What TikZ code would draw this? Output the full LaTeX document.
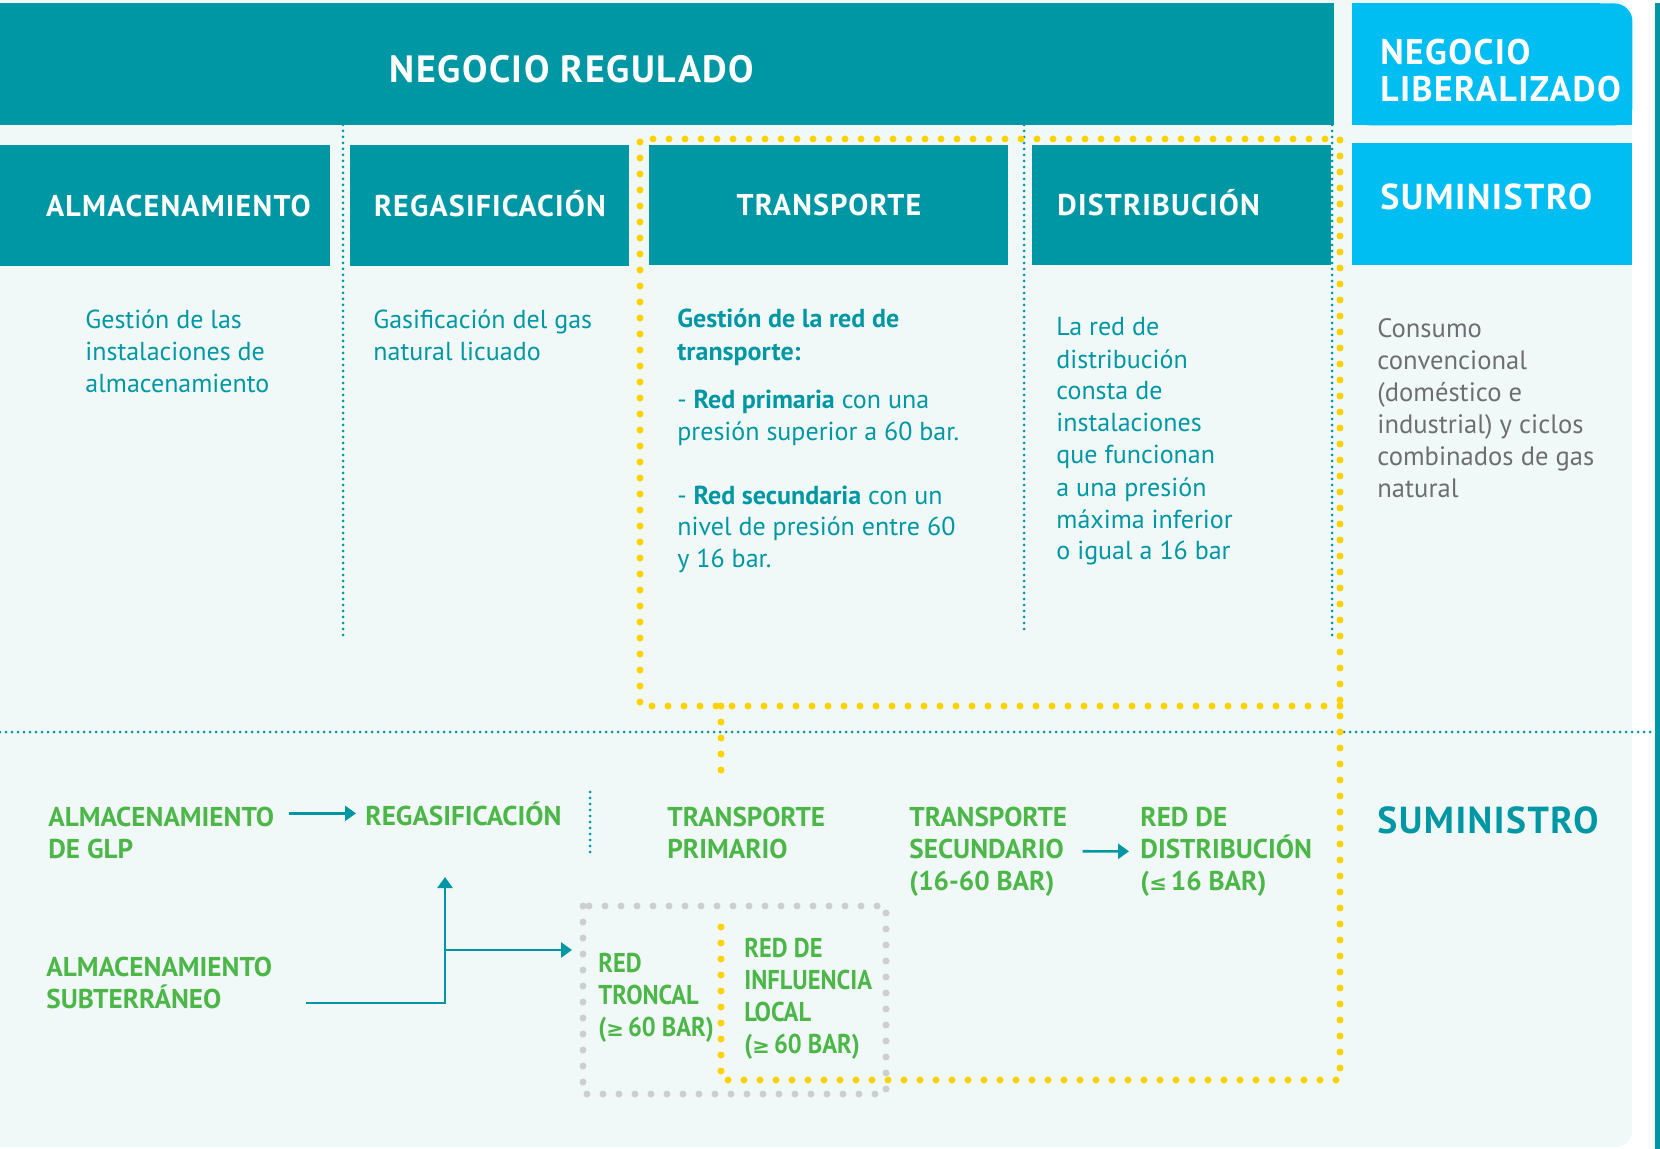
\documentclass[tikz,border=0pt]{standalone}
\usepackage{fontspec}
\setmainfont{PT Sans}
\newfontfamily\headsans[LetterSpace=4]{PT Sans}
\newfontfamily\narrowsans[FakeStretch=0.9]{PT Sans}
\newfontfamily\symsans{DejaVu Sans}
\usetikzlibrary{arrows.meta}
\definecolor{petrol}{RGB}{0,151,165}
\definecolor{sky}{RGB}{0,189,242}
\definecolor{mint}{RGB}{241,249,248}
\definecolor{leaf}{RGB}{76,183,72}
\definecolor{slate}{RGB}{109,110,113}
\definecolor{sun}{RGB}{255,210,0}
\definecolor{ash}{RGB}{205,206,208}
\newcommand{\mayoroig}{{\symsans\bfseries\fontsize{10.5}{16}\selectfont ≥}\kern2pt}
\newcommand{\menoroig}{{\symsans\bfseries\fontsize{10.5}{16}\selectfont ≤}\kern2pt}
\begin{document}
\begin{tikzpicture}[x=0.5pt,y=-0.5pt,
	every node/.style={inner sep=0,anchor=base west,align=left},
	hbox/.style 2 args={fill=petrol,text=white,anchor=north west,align=center,
		minimum width=0.5pt*#1,minimum height=0.5pt*#2,text height=10.5pt,text depth=0pt,
		font=\headsans\bfseries\fontsize{15}{18}\selectfont},
	body/.style={text=petrol,font=\fontsize{13}{16}\selectfont},
	step label/.style={text=leaf,font=\bfseries\fontsize{13.6}{16}\selectfont},
	narrow label/.style={step label,font=\narrowsans\bfseries\fontsize{13.6}{16}\selectfont},
	tdots/.style={petrol,line width=1.5pt,dash pattern=on 0pt off 3pt,line cap=round},
	ydots/.style={sun,line width=3.5pt,dash pattern=on 0pt off 8pt,line cap=round},
	gdots/.style={ash,line width=3.5pt,dash pattern=on 0pt off 8pt,line cap=round},
	link/.style={petrol,line width=1.3pt,-{Triangle[length=5.5pt,width=7.5pt]}}]
\useasboundingbox (0,0) rectangle (1660,1149);
\fill[mint,rounded corners=8pt] (0,0) rectangle (1632,1147);
\fill[mint] (0,0) rectangle (60,1147);
\fill[petrol] (1655,3) rectangle (1660,1149);

\node[hbox={1334}{122}] (reg) at (0,3) {};
\node[anchor=center,text=white,font=\headsans\bfseries\fontsize{19}{20}\selectfont] (regt) at (572,69) {NEGOCIO REGULADO};
\node[hbox={280}{122},fill=sky,rounded corners=9pt] (lib) at (1352,3) {};
\fill[sky] (1352,3) rectangle (1600,125);
\fill[sky] (1352,40) rectangle (1632,125);
\node[text=white,font=\headsans\bfseries\fontsize{17.8}{18.5}\selectfont] (libt) at (1380,102) {NEGOCIO\\LIBERALIZADO};

\node[hbox={330}{121}] (alm) at (0,145) {\hspace*{13pt}ALMACENAMIENTO};
\node[hbox={279}{121}] (rgs) at (350,145) {REGASIFICACIÓN};
\node[hbox={359}{120}] (tra) at (649,145) {TRANSPORTE};
\node[hbox={299}{120},align=left,inner xsep=12.5pt,text width=124.5pt] (dis) at (1032,145) {DISTRIBUCIÓN};
\node[hbox={280}{122},fill=sky,align=left,inner xsep=14pt,text width=112pt,text depth=5.4pt,
	font=\headsans\bfseries\fontsize{18}{18}\selectfont] (sum) at (1352,143) {SUMINISTRO};

\node[body] (almt) at (85,393) {Gestión de las\\instalaciones de\\almacenamiento};
\node[body] (rgst) at (373,361) {Gasificación del gas\\natural licuado};
\node[body] (trat) at (677,568) {\textbf{Gestión de la red de}\\\textbf{transporte:}\\[8.5pt]
	- \textbf{Red primaria} con una\\presión superior a 60 bar.\\[15.5pt]
	- \textbf{Red secundaria} con un\\nivel de presión entre 60\\y 16 bar.};
\node[body] (dist) at (1056,560) {La red de\\distribución\\consta de\\instalaciones\\que funcionan\\a una presión\\máxima inferior\\o igual a 16 bar};
\node[text=slate,font=\fontsize{13.3}{16}\selectfont] (sumt) at (1377,498) {Consumo\\convencional\\(doméstico e\\industrial) y ciclos\\combinados de gas\\natural};

\draw[tdots] (343,125) -- (343,635);
\draw[tdots] (1024,125) -- (1024,633);
\draw[tdots] (1332,125) -- (1332,635);
\draw[tdots] (0,732) -- (1655,732);
\draw[tdots] (590,792) -- (590,853);

\draw[gdots] (583,906) rectangle (886,1094);
\draw[ydots] (1340,706) -- (640,706) -- (640,139) -- (1340,139) -- (1340,1080) -- (721,1080) -- (721,914);
\draw[ydots] (721,706) -- (721,776);

\node[step label] (glp) at (48,858) {ALMACENAMIENTO\\DE GLP};
\node[step label] (regb) at (365,825) {REGASIFICACIÓN};
\node[step label] (prim) at (667,858) {TRANSPORTE\\PRIMARIO};
\node[step label] (sec) at (909,890) {TRANSPORTE\\SECUNDARIO\\(16-60 BAR)};
\node[step label] (dis2) at (1140,890) {RED DE\\DISTRIBUCIÓN\\(\menoroig 16 BAR)};
\node[text=petrol,font=\headsans\bfseries\fontsize{18.8}{20}\selectfont] (sumb) at (1377,833) {SUMINISTRO};
\node[step label] (subt) at (46,1008) {ALMACENAMIENTO\\SUBTERRÁNEO};
\node[narrow label] (tron) at (598,1036) {RED\\TRONCAL\\(\mayoroig 60 BAR)};
\node[narrow label] (infl) at (744,1053) {RED DE\\INFLUENCIA\\LOCAL\\(\mayoroig 60 BAR)};

\coordinate (sub0) at (306,1003);
\coordinate (fork) at (445,950);
\coordinate (regup) at (445,877);
\draw[link,shorten <=7pt,shorten >=4.5pt] (glp.east |- regb.west) -- (regb.west);
\draw[link,shorten <=7.5pt,shorten >=5.5pt] (sec.east) -- (dis2.west);
\draw[link,-] (sub0) -| (fork);
\draw[link] (fork) -- (regup);
\draw[link,shorten >=13pt] (fork) -- (fork -| tron.west);
\end{tikzpicture}
\end{document}
